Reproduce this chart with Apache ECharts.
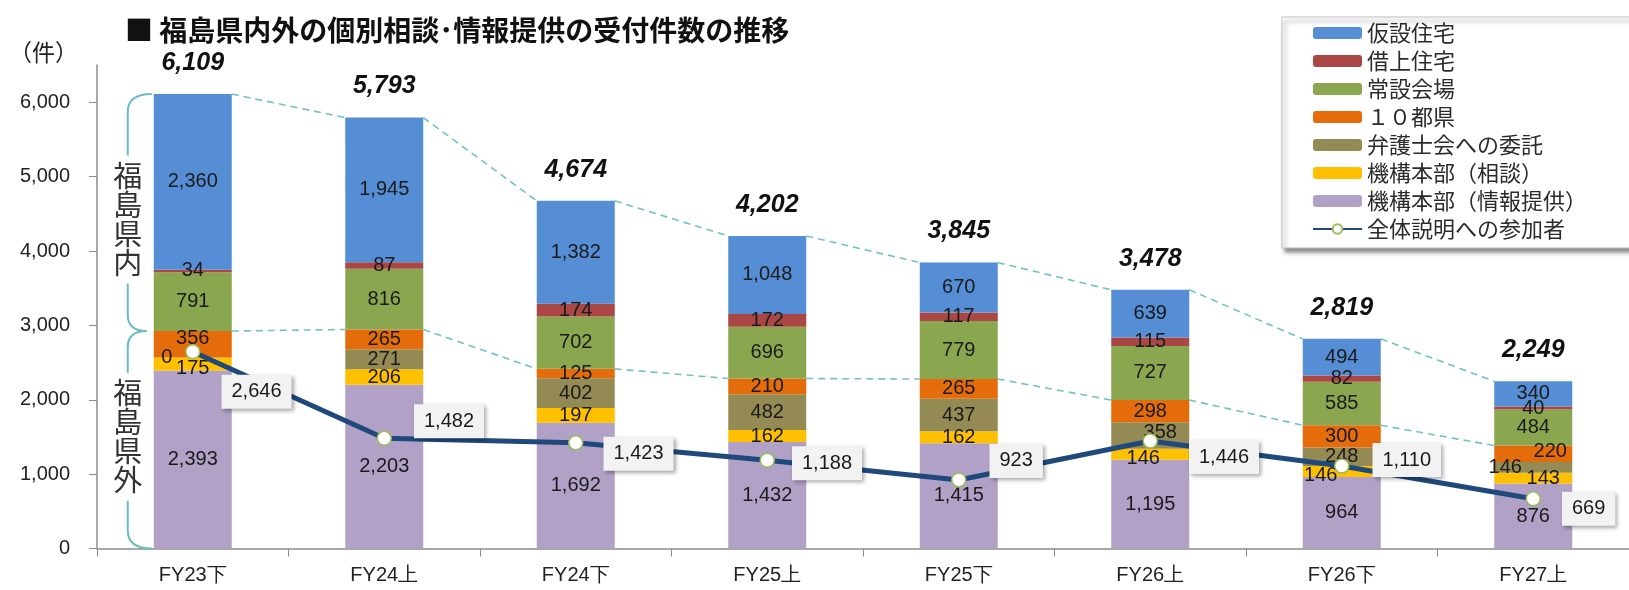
<!DOCTYPE html>
<html>
<head>
<meta charset="UTF-8">
<title>福島県内外の個別相談・情報提供の受付件数の推移</title>
<script src="https://cdn.jsdelivr.net/npm/echarts@6/dist/echarts.min.js"></script>
<style>
  html, body { margin: 0; padding: 0; background: #fff; }
  #main { width: 1629px; height: 590px; }
</style>
</head>
<body>
<div id="main"></div>
<script>
// 期間
var periods = ['FY23下', 'FY24上', 'FY24下', 'FY25上', 'FY25下', 'FY26上', 'FY26下', 'FY27上'];
// 福島県内
var kasetsu  = [2360, 1945, 1382, 1048, 670, 639, 494, 340];   // 仮設住宅
var kariage  = [34, 87, 174, 172, 117, 115, 82, 40];           // 借上住宅
var jousetsu = [791, 816, 702, 696, 779, 727, 585, 484];       // 常設会場
// 福島県外
var token10     = [356, 265, 125, 210, 265, 298, 300, 220];    // １０都県
var bengoshi    = [0, 271, 402, 482, 437, 358, 248, 146];      // 弁護士会への委託
var honbuSoudan = [175, 206, 197, 162, 162, 146, 146, 143];    // 機構本部（相談）
var honbuJouhou = [2393, 2203, 1692, 1432, 1415, 1195, 964, 876]; // 機構本部（情報提供）
// 全体説明への参加者
var sankasha = [2646, 1482, 1423, 1188, 923, 1446, 1110, 669];
var yTicks = [0, 1000, 2000, 3000, 4000, 5000, 6000];

var BAR_W = 78;
var NUM_FONT = "'Liberation Sans', Arial, sans-serif";
var JP_FONT = "'Noto Sans CJK JP', sans-serif";

// 県外合計・全体合計
var outer = periods.map(function (p, i) {
    return honbuJouhou[i] + honbuSoudan[i] + bengoshi[i] + token10[i];
});
var totals = periods.map(function (p, i) {
    return outer[i] + jousetsu[i] + kariage[i] + kasetsu[i];
});

// 積み上げ順（下から）
var stackDefs = [
    { name: '機構本部（情報提供）', data: honbuJouhou, color: '#b2a1c7' },
    { name: '機構本部（相談）', data: honbuSoudan, color: '#ffc000' },
    { name: '弁護士会への委託', data: bengoshi, color: '#948a54' },
    { name: '１０都県', data: token10, color: '#e46c0a' },
    { name: '常設会場', data: jousetsu, color: '#8aa64f' },
    { name: '借上住宅', data: kariage, color: '#aa4643' },
    { name: '仮設住宅', data: kasetsu, color: '#558ed5' }
];

// 重なりを避けるためのラベルずらし
var labelNudge = {
    '機構本部（相談）': { 0: [0, 4], 5: [-7, 4], 6: [-21, 4], 7: [10, 0] },
    '弁護士会への委託': { 0: [-26, 0], 5: [10, -3], 7: [-28, 0] },
    '１０都県': { 0: [0, -6], 7: [17, -2] }
};
var lineLabelNudge = [[0, 40], [1, -17], [-1, 11], [-4, 3], [2, -19], [10, 16], [2, -6], [0, 10]];

function fmt(v) { return Number(v).toLocaleString('en-US'); }

var series = stackDefs.map(function (d) {
    var nudge = labelNudge[d.name] || {};
    return {
        name: d.name,
        type: 'bar',
        stack: 'all',
        barWidth: BAR_W,
        itemStyle: { color: d.color },
        label: {
            show: true,
            position: 'inside',
            color: '#1a1a1a',
            fontSize: 20,
            fontFamily: NUM_FONT,
            formatter: function (p) { return fmt(p.value); }
        },
        emphasis: { disabled: true },
        data: d.data.map(function (v, i) {
            if (nudge[i]) return { value: v, label: { offset: nudge[i] } };
            return v;
        }),
        z: 2
    };
});

// 合計ラベル
series.push({
    name: '合計',
    type: 'line',
    data: totals,
    symbol: 'circle',
    symbolSize: 1,
    itemStyle: { color: 'rgba(0,0,0,0)' },
    lineStyle: { opacity: 0 },
    silent: true,
    label: {
        show: true,
        position: 'top',
        distance: 18,
        color: '#111',
        fontSize: 25,
        fontWeight: 'bold',
        fontStyle: 'italic',
        fontFamily: NUM_FONT,
        formatter: function (p) { return fmt(p.value); }
    },
    z: 6
});

// 全体説明への参加者
series.push({
    name: '全体説明への参加者',
    type: 'line',
    data: sankasha.map(function (v, i) {
        return { value: v, label: { offset: lineLabelNudge[i] } };
    }),
    symbol: 'circle',
    symbolSize: 14,
    lineStyle: { color: '#1f497d', width: 5 },
    itemStyle: { color: '#ffffff', borderColor: '#9bbb59', borderWidth: 1.5 },
    label: {
        show: true,
        position: 'right',
        distance: 21,
        color: '#1a1a1a',
        fontSize: 20,
        fontFamily: NUM_FONT,
        backgroundColor: '#f2f2f2',
        padding: [8, 10, 6, 10],
        shadowBlur: 4,
        shadowColor: 'rgba(0,0,0,0.35)',
        shadowOffsetX: 2,
        shadowOffsetY: 2,
        formatter: function (p) { return fmt(p.value); }
    },
    emphasis: { disabled: true },
    z: 8
});

// 系列線（破線）
var dashStyle = { stroke: '#6fc2c8', lineWidth: 1.6, lineDash: [7, 5] };
series.push({
    name: 'connector',
    type: 'custom',
    silent: true,
    data: periods.slice(0, -1).map(function (p, i) {
        return [i, totals[i], totals[i + 1], outer[i], outer[i + 1]];
    }),
    renderItem: function (params, api) {
        var i = api.value(0);
        var a = api.coord([i, api.value(1)]);
        var b = api.coord([i + 1, api.value(2)]);
        var c = api.coord([i, api.value(3)]);
        var d = api.coord([i + 1, api.value(4)]);
        var h = BAR_W / 2;
        return {
            type: 'group',
            children: [
                { type: 'line', shape: { x1: a[0] + h, y1: a[1], x2: b[0] - h, y2: b[1] }, style: dashStyle },
                { type: 'line', shape: { x1: c[0] + h, y1: c[1], x2: d[0] - h, y2: d[1] }, style: dashStyle }
            ]
        };
    },
    z: 1
});

// 左側の括弧「福島県内」「福島県外」
series.push({
    name: 'brace',
    type: 'custom',
    silent: true,
    data: [[0, totals[0], outer[0]]],
    renderItem: function (params, api) {
        var top = api.coord([0, api.value(1)]);
        var mid = api.coord([0, api.value(2)]);
        var bot = api.coord([0, 0]);
        var bx = top[0] - BAR_W / 2;
        var xr = bx - 2, xl = bx - 26, xp = bx - 7;
        var T = top[1], M = mid[1], B = bot[1];
        var yu = (T + M) / 2 + 7, yl = (M + B) / 2 - 3;
        var half = 64;
        var upper = 'M' + xr + ' ' + T + ' Q' + xl + ' ' + T + ' ' + xl + ' ' + (T + 18) +
            ' L' + xl + ' ' + (yu - half) +
            ' M' + xl + ' ' + (yu + half) + ' L' + xl + ' ' + (M - 16) +
            ' Q' + xl + ' ' + M + ' ' + xp + ' ' + M;
        var lower = 'M' + xp + ' ' + M + ' Q' + xl + ' ' + M + ' ' + xl + ' ' + (M + 16) +
            ' L' + xl + ' ' + (yl - half) +
            ' M' + xl + ' ' + (yl + half) + ' L' + xl + ' ' + (B - 18) +
            ' Q' + xl + ' ' + B + ' ' + xr + ' ' + B;
        var braceStyle = { stroke: '#6bbcc2', lineWidth: 2, fill: null };
        var txt = function (s, y) {
            return {
                type: 'text',
                style: {
                    text: s, x: xl, y: y, align: 'center', verticalAlign: 'middle',
                    fontSize: 29, lineHeight: 29, fontFamily: JP_FONT, fill: '#333'
                }
            };
        };
        return {
            type: 'group',
            children: [
                { type: 'path', shape: { pathData: upper }, style: braceStyle },
                { type: 'path', shape: { pathData: lower }, style: braceStyle },
                txt('福\n島\n県\n内', yu),
                txt('福\n島\n県\n外', yl)
            ]
        };
    },
    z: 1
});

var myChart = echarts.init(document.getElementById('main'));

var option = {
    animation: false,
    backgroundColor: '#fff',
    title: [
        {
            text: '■ 福島県内外の個別相談･情報提供の受付件数の推移',
            left: 120,
            top: 11,
            textStyle: { fontSize: 28, fontWeight: 'bold', color: '#111', fontFamily: JP_FONT }
        },
        {
            text: '（件）',
            left: 4,
            top: 36,
            textStyle: { fontSize: 23, fontWeight: 'normal', color: '#222', fontFamily: JP_FONT }
        }
    ],
    legend: {
        orient: 'vertical',
        left: 1282,
        top: 17,
        padding: [5, 120, 8, 30],
        itemGap: 6,
        itemWidth: 49,
        itemHeight: 12,
        backgroundColor: '#fff',
        borderColor: '#bfbfbf',
        borderWidth: 1,
        shadowBlur: 4,
        shadowColor: 'rgba(0,0,0,0.45)',
        shadowOffsetX: 3,
        shadowOffsetY: 4,
        textStyle: { fontSize: 22, lineHeight: 22, color: '#2b2b2b', fontFamily: JP_FONT },
        data: ['仮設住宅', '借上住宅', '常設会場', '１０都県', '弁護士会への委託',
               '機構本部（相談）', '機構本部（情報提供）', '全体説明への参加者'],
        selectedMode: false
    },
    grid: { left: 97, top: 65, width: 1547, height: 483.6 },
    xAxis: {
        type: 'category',
        data: periods,
        axisLine: { lineStyle: { color: '#8c8c8c', width: 1.5 } },
        axisTick: { show: true, length: 8, lineStyle: { color: '#8c8c8c' } },
        axisLabel: { margin: 17, fontSize: 20, color: '#222', fontFamily: NUM_FONT }
    },
    yAxis: {
        type: 'value',
        min: 0,
        max: 6500,
        interval: 1000,
        splitLine: { show: false },
        axisLine: { show: true, lineStyle: { color: '#8c8c8c', width: 1.5 } },
        axisTick: { show: true, length: 8, customValues: yTicks, lineStyle: { color: '#8c8c8c' } },
        axisLabel: {
            margin: 27,
            fontSize: 20,
            color: '#222',
            fontFamily: NUM_FONT,
            customValues: yTicks,
            formatter: function (v) { return fmt(v); }
        }
    },
    series: series
};

myChart.setOption(option);
</script>
</body>
</html>
